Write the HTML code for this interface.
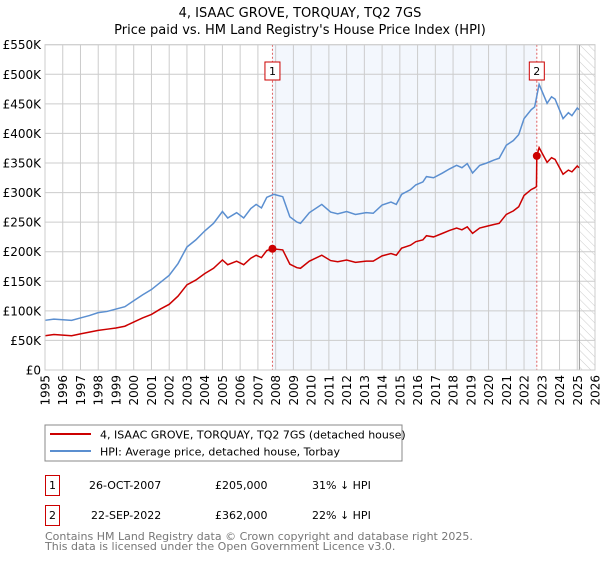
<!DOCTYPE html>
<html><head><meta charset="utf-8"><style>
body{margin:0;background:#fff;font-family:"DejaVu Sans","Liberation Sans",sans-serif;}
svg text{font-family:"DejaVu Sans","Liberation Sans",sans-serif;}
</style></head><body>
<svg id="chart" width="600" height="560" viewBox="0 0 600 560" xmlns="http://www.w3.org/2000/svg">
<defs><pattern id="hatch" width="6" height="6" patternUnits="userSpaceOnUse" patternTransform="rotate(-45)"><line x1="0" y1="0" x2="0" y2="6" stroke="#ccc" stroke-width="1"/></pattern></defs>
<text x="300" y="17" text-anchor="middle" font-size="13">4, ISAAC GROVE, TORQUAY, TQ2 7GS</text>
<text x="300" y="34" text-anchor="middle" font-size="13">Price paid vs. HM Land Registry's House Price Index (HPI)</text>
<g id="plot"></g>
<g>
<rect x="45" y="425" width="357" height="36" fill="#fff" stroke="#888"/>
<line x1="50" y1="434" x2="91" y2="434" stroke="#cc0000" stroke-width="2"/>
<text x="100" y="438.5" font-size="11">4, ISAAC GROVE, TORQUAY, TQ2 7GS (detached house)</text>
<line x1="50" y1="451" x2="91" y2="451" stroke="#5b8fd0" stroke-width="2"/>
<text x="100" y="455.5" font-size="11">HPI: Average price, detached house, Torbay</text>
</g>
<g font-size="11">
<rect x="45.5" y="475.5" width="14" height="20" fill="#fff" stroke="#cc0000"/><text x="52.5" y="489" text-anchor="middle">1</text>
<text x="89" y="489">26-OCT-2007</text><text x="215" y="489">£205,000</text><text x="312" y="489">31% ↓ HPI</text>
<rect x="45.5" y="505.5" width="14" height="20" fill="#fff" stroke="#cc0000"/><text x="52.5" y="519" text-anchor="middle">2</text>
<text x="91" y="519">22-SEP-2022</text><text x="215" y="519">£362,000</text><text x="312" y="519">22% ↓ HPI</text>
</g>
<text x="45" y="540" font-size="11" fill="#777">Contains HM Land Registry data © Crown copyright and database right 2025.</text>
<text x="45" y="550" font-size="11" fill="#777">This data is licensed under the Open Government Licence v3.0.</text>
</svg>
<script>
const hpiYears=[1995.0,1995.5,1996.0,1996.5,1997.0,1997.5,1998.0,1998.5,1999.0,1999.5,2000.0,2000.5,2001.0,2001.5,2002.0,2002.5,2003.0,2003.5,2004.0,2004.5,2005.0,2005.3,2005.8,2006.2,2006.6,2006.9,2007.2,2007.5,2007.9,2008.4,2008.8,2009.2,2009.4,2009.9,2010.6,2011.1,2011.5,2012.0,2012.5,2013.1,2013.5,2014.0,2014.5,2014.8,2015.1,2015.6,2015.9,2016.3,2016.5,2016.9,2017.4,2017.8,2018.2,2018.5,2018.8,2019.1,2019.5,2019.9,2020.3,2020.6,2021.0,2021.4,2021.7,2022.0,2022.4,2022.6,2022.85,2023.3,2023.55,2023.75,2024.2,2024.5,2024.7,2025.0,2025.1];
const hpiValues=[84,86,85,84,88,92,97,99,103,107,117,127,136,148,160,180,208,220,235,248,268,257,266,257,273,280,274,292,297,293,259,250,248,266,280,267,264,268,263,266,265,279,284,280,297,305,313,318,327,325,333,340,346,342,349,333,346,350,355,358,380,388,398,425,440,445,483,451,462,458,425,435,430,443,440];
const priceYears=[1995.0,1995.5,1996.0,1996.5,1997.0,1997.5,1998.0,1998.5,1999.0,1999.5,2000.0,2000.5,2001.0,2001.5,2002.0,2002.5,2003.0,2003.5,2004.0,2004.5,2005.0,2005.3,2005.8,2006.2,2006.6,2006.9,2007.2,2007.5,2007.82,2008.4,2008.8,2009.2,2009.4,2009.9,2010.6,2011.1,2011.5,2012.0,2012.5,2013.1,2013.5,2014.0,2014.5,2014.8,2015.1,2015.6,2015.9,2016.3,2016.5,2016.9,2017.4,2017.8,2018.2,2018.5,2018.8,2019.1,2019.5,2019.9,2020.3,2020.6,2021.0,2021.4,2021.7,2022.0,2022.4,2022.6,2022.7,2022.72,2022.85,2023.3,2023.55,2023.75,2024.2,2024.5,2024.7,2025.0,2025.1];
const priceValues=[58,60,59,58,61,64,67,69,71,74,81,88,94,103,111,125,144,152,163,172,186,178,184,178,189,194,190,202,205,203,179,173,172,184,194,185,183,186,182,184,184,193,197,194,206,211,217,220,227,225,231,236,240,237,242,231,240,243,246,248,263,269,276,295,305,308,310,362,376,351,359,356,331,338,335,345,342];
const saleYears=[2007.82,2022.72];
const salePrices=[205,362];
const saleLabels=["1","2"];
const yTicks=[0,50,100,150,200,250,300,350,400,450,500,550];
const yTickLabels=["£0","£50K","£100K","£150K","£200K","£250K","£300K","£350K","£400K","£450K","£500K","£550K"];
const xTicks=[1995,1996,1997,1998,1999,2000,2001,2002,2003,2004,2005,2006,2007,2008,2009,2010,2011,2012,2013,2014,2015,2016,2017,2018,2019,2020,2021,2022,2023,2024,2025,2026];
const dataEndYear=2025.12;

const NS="http://www.w3.org/2000/svg";
const L=45,R=595,T=44.7,B=370;
const x=y=>L+(y-1995)/(2026-1995)*(R-L);
const yv=v=>B-v/550*(B-T);
const plot=document.getElementById('plot');
function mk(tag,attrs,parent){const e=document.createElementNS(NS,tag);for(const k in attrs)e.setAttribute(k,attrs[k]);(parent||plot).appendChild(e);return e;}

const shade=mk('rect',{x:x(saleYears[0]),y:T,width:x(saleYears[1])-x(saleYears[0]),height:B-T,fill:'#eef3fc',opacity:0.7});


const hatch=mk('rect',{x:x(dataEndYear),y:T,width:R-x(dataEndYear),height:B-T,fill:'url(#hatch)'});



xTicks.forEach(t=>{
  const g=mk('line',{x1:x(t),y1:T,x2:x(t),y2:B,stroke:'#ccc','stroke-width':1});
  
  
  const lb=mk('text',{x:0,y:0,'font-size':12,'text-anchor':'end',transform:`translate(${x(t)+4.5},${B+5}) rotate(-90)`});
  lb.textContent=t;
  
  
});
yTicks.forEach((t,i)=>{
  const g=mk('line',{x1:L,y1:yv(t),x2:R,y2:yv(t),stroke:'#ccc','stroke-width':1});
  
  
  const lb=mk('text',{x:L-4,y:yv(t)+4.5,'font-size':12,'text-anchor':'end'});
  lb.textContent=yTickLabels[i];
  
  
});
const endLine=mk('line',{x1:x(dataEndYear),y1:T,x2:x(dataEndYear),y2:B,stroke:'#999','stroke-width':1});



saleYears.forEach((s,i)=>{
  const v=mk('line',{x1:x(s),y1:T,x2:x(s),y2:B,stroke:'#e06060','stroke-width':1,'stroke-dasharray':'2,2'});
  
  
});

const hp=mk('polyline',{points:hpiYears.map((t,i)=>x(t)+','+yv(hpiValues[i])).join(' '),fill:'none',stroke:'#5b8fd0','stroke-width':1.5});


const pp=mk('polyline',{points:priceYears.map((t,i)=>x(t)+','+yv(priceValues[i])).join(' '),fill:'none',stroke:'#cc0000','stroke-width':1.5});



saleYears.forEach((s,i)=>{
  const d=mk('circle',{cx:x(s),cy:yv(salePrices[i]),r:4,fill:'#cc0000'});
  
  
  const bx=mk('rect',{x:x(s)-7.5,y:62,width:15,height:18,fill:'#fff',stroke:'#cc0000'});
  
  
  const tx=mk('text',{x:x(s),y:75,'font-size':11,'text-anchor':'middle'});
  tx.textContent=saleLabels[i];
  
  
});
const frame=mk('rect',{x:L,y:T,width:R-L,height:B-T,fill:'none',stroke:'#ccc'});


</script>
</body></html>
